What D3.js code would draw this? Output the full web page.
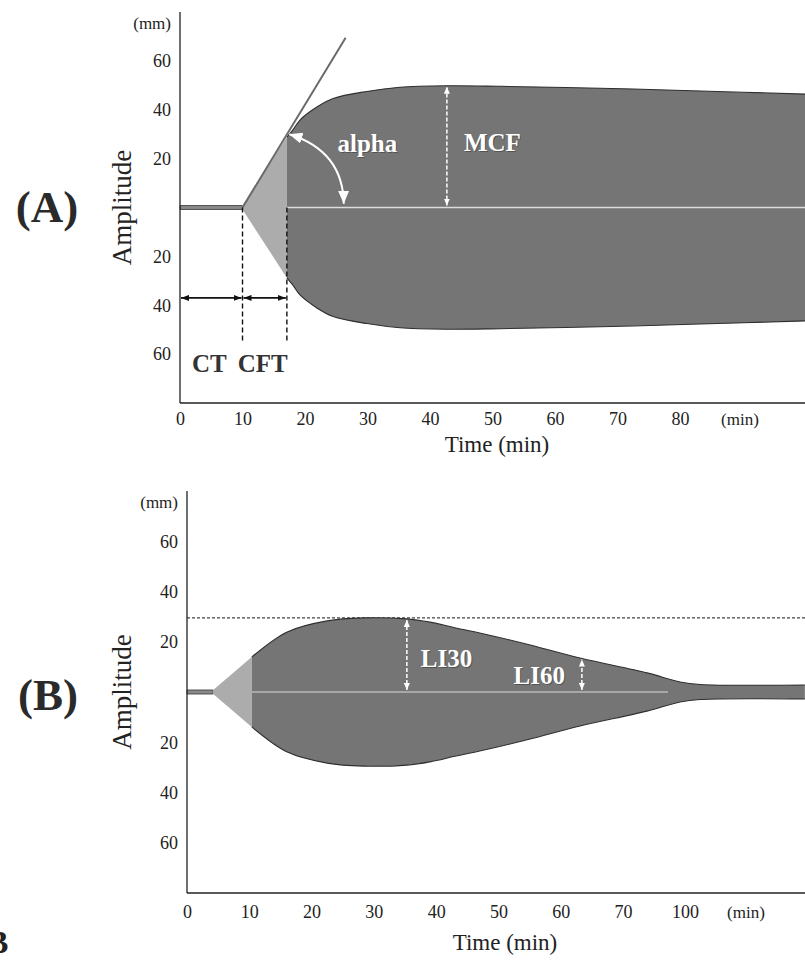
<!DOCTYPE html>
<html>
<head>
<meta charset="utf-8">
<script src="https://cdn.jsdelivr.net/npm/d3@7"></script>
<style>
body { margin: 0; background: #fff; }
svg { display: block; }
text { font-family: 'Liberation Serif', 'Times New Roman', serif; fill: #222; }
</style>
</head>
<body>
<svg width="805" height="966"></svg>
<script>
'use strict'

// ---- panel A: normal clot ----
const ctA = 10
const clotTimeA = [17.1, 18.1, 19.2, 21.9, 24.5, 29.9, 35.2, 42.7, 51.2, 67.2, 83.2, 100]
const clotAmpA = [28.8, 31.9, 35.8, 41.1, 44.6, 47.5, 49.2, 49.8, 49.6, 48.8, 47.7, 46.4]
const tangentTimeA = [10, 26.5]
const tangentAmpA = [0, 69.5]
const mcfTimeA = 42.7
const xTicksA = [0, 10, 20, 30, 40, 50, 60, 70, 80]

// ---- panel B: lysis ----
const ctB = 4.2
const clotTimeB = [10.4, 16.1, 22.5, 28.3, 35.3, 39, 43, 47, 55.1, 63.1, 81.6, 97.6, 107.3, 158]
const clotAmpB = [13.9, 23.9, 28.3, 29.5, 29.1, 27.8, 25.6, 23.5, 18.7, 13.5, 7.6, 4, 3, 2.8]
const liTimeB = [35.3, 63.4]
const liAmpB = [29.1, 13.3]
const liLabelB = ['LI30', 'LI60']
const xTicksB = [0, 10, 20, 30, 40, 50, 60, 70, 100]

const yTicks = [60, 40, 20, -20, -40, -60]
const baseAmp = 0.8

const svg = d3.select('svg')
const width = +svg.attr('width')
const serif = "'Liberation Serif', 'Times New Roman', serif"
const darkFill = '#757575'
const lightFill = '#acacac'
const smooth = d3.curveCatmullRom.alpha(0.5)

const xA = d3.scaleLinear().domain([0, 100]).range([180, 805])
const yA = d3.scaleLinear().domain([-80, 80]).range([403, 12])
// B axis jumps from 70 to 100 in one step
const xB = d3.scaleLinear().domain([0, 70, 100]).range([187, 623, 685])
const yB = d3.scaleLinear().domain([-80, 80]).range([893, 491])

const defs = svg.append('defs')
function marker(id, color, len, wid) {
    defs.append('marker')
        .attr('id', id)
        .attr('viewBox', `0 0 ${len} ${wid}`)
        .attr('refX', len)
        .attr('refY', wid / 2)
        .attr('markerWidth', len)
        .attr('markerHeight', wid)
        .attr('markerUnits', 'userSpaceOnUse')
        .attr('orient', 'auto-start-reverse')
        .append('path')
        .attr('d', `M0,0 L${len},${wid / 2} L0,${wid} Z`)
        .attr('fill', color)
}
marker('blk', '#111', 8, 6)
marker('wht', '#fff', 7, 6)
marker('big', '#fff', 13, 11)

function axes(x, y, ticks, pad, unitX) {
    const g = svg.append('g')
    const x0 = x(0)
    g.append('line')
        .attr('x1', x0).attr('x2', x0)
        .attr('y1', y(80)).attr('y2', y(-80))
        .attr('stroke', '#222').attr('stroke-width', 1.3)
    g.append('line')
        .attr('x1', x0).attr('x2', width)
        .attr('y1', y(-80)).attr('y2', y(-80))
        .attr('stroke', '#222').attr('stroke-width', 1.6)

    const ya = g.append('g')
        .attr('transform', `translate(${x0},0)`)
        .call(d3.axisLeft(y).tickValues(yTicks).tickFormat(d => Math.abs(d)).tickSize(0).tickPadding(9))
    const xa = g.append('g')
        .attr('transform', `translate(0,${y(-80)})`)
        .call(d3.axisBottom(x).tickValues(ticks).tickSize(0).tickPadding(pad))
    for (const a of [ya, xa]) {
        a.select('.domain').remove()
        a.attr('font-family', serif).attr('font-size', 18)
    }

    g.append('text')
        .attr('x', x0 - 9).attr('y', y(80) + 17)
        .attr('text-anchor', 'end')
        .attr('font-size', 17)
        .text('(mm)')
    g.append('text')
        .attr('x', unitX).attr('y', y(-80) + pad + 13)
        .attr('text-anchor', 'middle')
        .attr('font-size', 17)
        .text('(min)')
    g.append('text')
        .attr('transform', `translate(131,${y(0)}) rotate(-90)`)
        .attr('text-anchor', 'middle')
        .attr('font-size', 27)
        .text('Amplitude')
    return g
}

function clot(x, y, ct, time, amp) {
    const g = svg.append('g')
    const pts = time.map((t, i) => ({ t, a: amp[i] }))
    const flat = [{ t: 0, a: baseAmp }, { t: ct, a: baseAmp }]
    const tri = [{ t: ct, a: baseAmp }, pts[0]]

    const band = d3.area().x(d => x(d.t)).y0(d => y(-d.a)).y1(d => y(d.a))
    g.append('path').datum(flat).attr('d', band)
        .attr('fill', '#8a8a8a').attr('stroke', '#333').attr('stroke-width', 0.8)
    g.append('path').datum(tri).attr('d', band).attr('fill', lightFill)
    g.append('path').datum(pts).attr('d', band.curve(smooth)).attr('fill', darkFill)

    const edge = s => d3.line().x(d => x(d.t)).y(d => y(s * d.a)).curve(smooth)
    for (const s of [1, -1]) {
        g.append('path').datum(pts).attr('d', edge(s))
            .attr('fill', 'none').attr('stroke', '#2e2e2e').attr('stroke-width', 1.1)
    }
    return g
}

function vArrow(x, y, t, a, id, dash) {
    svg.append('line')
        .attr('x1', x(t)).attr('x2', x(t))
        .attr('y1', y(0) - 2).attr('y2', y(a) + 1)
        .attr('stroke', '#fff').attr('stroke-width', 1.5)
        .attr('stroke-dasharray', dash)
        .attr('marker-start', `url(#${id})`).attr('marker-end', `url(#${id})`)
}

function whiteLabel(x0, y0, txt, anchor) {
    svg.append('text')
        .attr('x', x0 + 1).attr('y', y0 + 1)
        .attr('text-anchor', anchor)
        .attr('font-size', 25).attr('font-weight', 'bold')
        .style('fill', '#3a3a3a').attr('opacity', 0.55)
        .text(txt)
    svg.append('text')
        .attr('x', x0).attr('y', y0)
        .attr('text-anchor', anchor)
        .attr('font-size', 25).attr('font-weight', 'bold')
        .style('fill', '#fff')
        .text(txt)
}

// ================= panel A =================
const cftA = clotTimeA[0]
clot(xA, yA, ctA, clotTimeA, clotAmpA)

// midline
svg.append('line')
    .attr('x1', xA(cftA)).attr('x2', width)
    .attr('y1', yA(0)).attr('y2', yA(0))
    .attr('stroke', '#dcdcdc').attr('stroke-width', 1.6)

// tangent for alpha angle
svg.append('line')
    .attr('x1', xA(tangentTimeA[0])).attr('y1', yA(tangentAmpA[0]))
    .attr('x2', xA(tangentTimeA[1])).attr('y2', yA(tangentAmpA[1]))
    .attr('stroke', '#6a6a6a').attr('stroke-width', 2)

// CT / CFT markers
for (const t of [ctA, cftA]) {
    svg.append('line')
        .attr('x1', xA(t)).attr('x2', xA(t))
        .attr('y1', yA(0)).attr('y2', yA(-54.5))
        .attr('stroke', '#111').attr('stroke-width', 1.4)
        .attr('stroke-dasharray', '5,3')
}
const spans = [[0, ctA, 'CT'], [ctA, cftA, 'CFT']]
for (const [t0, t1, lbl] of spans) {
    svg.append('line')
        .attr('x1', xA(t0) + 1).attr('x2', xA(t1) - 1)
        .attr('y1', yA(-37)).attr('y2', yA(-37))
        .attr('stroke', '#111').attr('stroke-width', 1.6)
        .attr('marker-start', 'url(#blk)').attr('marker-end', 'url(#blk)')
    svg.append('text')
        .attr('x', (xA(t0) + xA(t1)) / 2 - 2).attr('y', 372)
        .attr('text-anchor', 'middle')
        .attr('font-size', 25).attr('font-weight', 'bold')
        .style('fill', '#333')
        .text(lbl)
}

// alpha arc
const arcStart = [xA(17.5), yA(30)]
const arcCtrl = [xA(26.1), yA(23.1)]
const arcEnd = [xA(26.2), yA(1.5)]
svg.append('path')
    .attr('d', `M${arcStart} Q${arcCtrl} ${arcEnd}`)
    .attr('fill', 'none').attr('stroke', '#fff').attr('stroke-width', 2)
    .attr('marker-start', 'url(#big)').attr('marker-end', 'url(#big)')
whiteLabel(xA(25.2), 152, 'alpha', 'start')

// MCF
vArrow(xA, yA, mcfTimeA, d3.max(clotAmpA), 'wht', '4,2')
whiteLabel(xA(mcfTimeA) + 17, 151, 'MCF', 'start')

axes(xA, yA, xTicksA, 9, 740)
svg.append('text')
    .attr('x', 497).attr('y', 452)
    .attr('text-anchor', 'middle').attr('font-size', 23)
    .text('Time (min)')
svg.append('text')
    .attr('x', 47).attr('y', 222)
    .attr('text-anchor', 'middle')
    .attr('font-size', 45).attr('font-weight', 'bold')
    .style('fill', '#2a2a2a')
    .text('(A)')

// ================= panel B =================
const cftB = clotTimeB[0]
const mcfB = d3.max(clotAmpB)

svg.append('line')
    .attr('x1', xB(0)).attr('x2', width)
    .attr('y1', yB(mcfB)).attr('y2', yB(mcfB))
    .attr('stroke', '#444').attr('stroke-width', 1.1)
    .attr('stroke-dasharray', '3,2')

clot(xB, yB, ctB, clotTimeB, clotAmpB)

svg.append('line')
    .attr('x1', xB(cftB)).attr('x2', xB(91.8))
    .attr('y1', yB(0)).attr('y2', yB(0))
    .attr('stroke', '#b8b8b8').attr('stroke-width', 1.3)

liTimeB.forEach((t, i) => {
    vArrow(xB, yB, t, liAmpB[i], 'wht', '4,2')
})
whiteLabel(xB(liTimeB[0]) + 14, 667, liLabelB[0], 'start')
whiteLabel(xB(liTimeB[1]) - 17, 684, liLabelB[1], 'end')

axes(xB, yB, xTicksB, 12, 746)
svg.append('text')
    .attr('x', 505).attr('y', 950)
    .attr('text-anchor', 'middle').attr('font-size', 23)
    .text('Time (min)')
svg.append('text')
    .attr('x', 48).attr('y', 710)
    .attr('text-anchor', 'middle')
    .attr('font-size', 45).attr('font-weight', 'bold')
    .style('fill', '#2a2a2a')
    .text('(B)')

// cut-off letter at the page edge
svg.append('text')
    .attr('x', -13).attr('y', 953)
    .attr('font-size', 32).attr('font-weight', 'bold')
    .text('B')
</script>
</body>
</html>
